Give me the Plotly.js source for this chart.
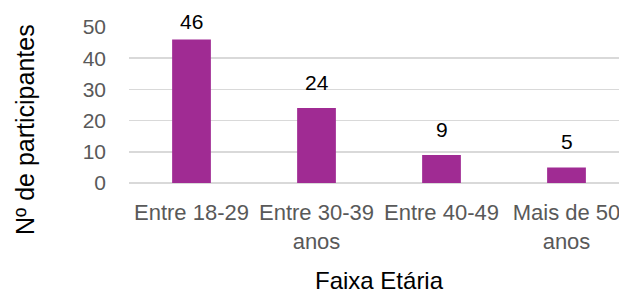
<!DOCTYPE html>
<html>
<head>
<meta charset="utf-8">
<script src="https://cdn.plot.ly/plotly-3.0.1.min.js"></script>
<style>html,body{margin:0;padding:0;background:#fff;}#chart{width:619px;height:293px;}</style>
</head>
<body>
<div id="chart"></div>
<script>
const categories = ["Entre 18-29", "Entre 30-39<br>anos", "Entre 40-49", "Mais de 50<br>anos"];
const values = [46, 24, 9, 5];
const yTicks = [0, 10, 20, 30, 40, 50];
const xTitle = "Faixa Etária";
const yTitle = "Nº de participantes";

const FONT = "Liberation Sans, Arial, sans-serif";
const labelAnn = values.map((v, i) => ({
  x: categories[i], y: Math.min(v, 43.5), xref: 'x', yref: 'y',
  text: String(v), showarrow: false, yanchor: 'bottom', yshift: 12,
  font: {family: FONT, size: 21, color: '#000000'}
}));

const trace = {
  type: 'bar', x: categories, y: values,
  marker: {color: '#A02B93'}, hoverinfo: 'none'
};

const layout = {
  width: 619, height: 293,
  margin: {l: 129, r: 0, t: 27, b: 110},
  paper_bgcolor: '#ffffff', plot_bgcolor: '#ffffff',
  showlegend: false, bargap: 0.69,
  font: {family: FONT},
  xaxis: {
    type: 'category', range: [-0.5, 3.42], tickangle: 0,
    showgrid: false, zeroline: false, showline: false, ticks: '',
    tickfont: {family: FONT, size: 22, color: '#595959'},
    ticklabelstandoff: 14, fixedrange: true
  },
  yaxis: {
    range: [0, 50], tickvals: yTicks, ticktext: yTicks.map(String),
    showgrid: true, gridcolor: '#d9d9d9', gridwidth: 1.5,
    zeroline: true, zerolinecolor: '#d9d9d9', zerolinewidth: 1.5,
    showline: false, ticks: '',
    tickfont: {family: FONT, size: 21, color: '#595959'},
    ticklabelstandoff: 22, fixedrange: true
  },
  annotations: labelAnn.concat([
    {x: 1.5, xref: 'x', y: 0, yref: 'paper', yanchor: 'middle', yshift: -97,
     text: xTitle, showarrow: false, font: {family: FONT, size: 24, color: '#000000'}},
    {x: 0, xref: 'paper', xshift: -104, y: 0.34, yref: 'paper', xanchor: 'center', yanchor: 'middle',
     textangle: -90, text: yTitle, showarrow: false, font: {family: FONT, size: 25, color: '#000000'}}
  ])
};

Plotly.newPlot('chart', [trace], layout, {displayModeBar: false, staticPlot: true});
</script>
</body>
</html>
